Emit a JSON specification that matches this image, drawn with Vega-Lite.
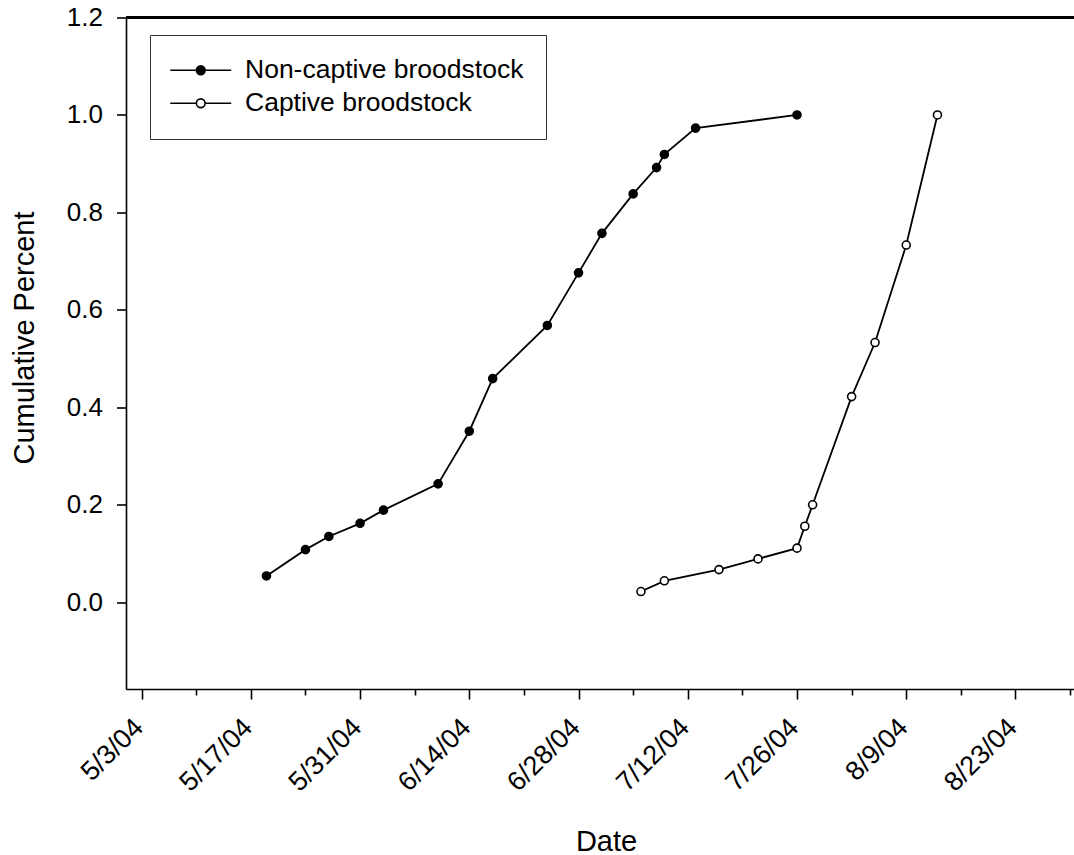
{
  "$schema": "https://vega.github.io/schema/vega-lite/v6.json",
  "width": 948,
  "height": 671.5,
  "autosize": {"type": "none"},
  "padding": {"left": 126, "top": 17.5, "right": 0, "bottom": 166},
  "background": "white",
  "config": {
    "view": {"stroke": null},
    "font": "Liberation Sans",
    "axis": {"grid": false, "domainColor": "black", "tickColor": "black", "domainWidth": 1.6, "tickWidth": 1.6, "labelColor": "black", "titleColor": "black", "labelFontSize": 26, "titleFontSize": 29, "titleFontWeight": "normal", "labelFont": "Liberation Sans", "titleFont": "Liberation Sans"}
  },
  "data": {
    "values": [
      {"series": "Non-captive broodstock", "date": "2004-05-19", "value": 0.054},
      {"series": "Non-captive broodstock", "date": "2004-05-24", "value": 0.108},
      {"series": "Non-captive broodstock", "date": "2004-05-27", "value": 0.135},
      {"series": "Non-captive broodstock", "date": "2004-05-31", "value": 0.162},
      {"series": "Non-captive broodstock", "date": "2004-06-03", "value": 0.189},
      {"series": "Non-captive broodstock", "date": "2004-06-10", "value": 0.243},
      {"series": "Non-captive broodstock", "date": "2004-06-14", "value": 0.351},
      {"series": "Non-captive broodstock", "date": "2004-06-17", "value": 0.459},
      {"series": "Non-captive broodstock", "date": "2004-06-24", "value": 0.568},
      {"series": "Non-captive broodstock", "date": "2004-06-28", "value": 0.676},
      {"series": "Non-captive broodstock", "date": "2004-07-01", "value": 0.757},
      {"series": "Non-captive broodstock", "date": "2004-07-05", "value": 0.838},
      {"series": "Non-captive broodstock", "date": "2004-07-08", "value": 0.892},
      {"series": "Non-captive broodstock", "date": "2004-07-09", "value": 0.919},
      {"series": "Non-captive broodstock", "date": "2004-07-13", "value": 0.973},
      {"series": "Non-captive broodstock", "date": "2004-07-26", "value": 1.0},
      {"series": "Captive broodstock", "date": "2004-07-06", "value": 0.022},
      {"series": "Captive broodstock", "date": "2004-07-09", "value": 0.044},
      {"series": "Captive broodstock", "date": "2004-07-16", "value": 0.067},
      {"series": "Captive broodstock", "date": "2004-07-21", "value": 0.089},
      {"series": "Captive broodstock", "date": "2004-07-26", "value": 0.111},
      {"series": "Captive broodstock", "date": "2004-07-27", "value": 0.156},
      {"series": "Captive broodstock", "date": "2004-07-28", "value": 0.2},
      {"series": "Captive broodstock", "date": "2004-08-02", "value": 0.422},
      {"series": "Captive broodstock", "date": "2004-08-05", "value": 0.533},
      {"series": "Captive broodstock", "date": "2004-08-09", "value": 0.733},
      {"series": "Captive broodstock", "date": "2004-08-13", "value": 1.0}
    ]
  },
  "encoding": {
    "x": {
      "field": "date", "type": "temporal",
      "scale": {"type": "utc", "domain": [{"year": 2004, "month": 5, "date": 1, "utc": true}, {"year": 2004, "month": 8, "date": 30, "hours": 12, "utc": true}], "nice": false},
      "axis": {
        "title": "Date",
        "values": [
          {"year": 2004, "month": 5, "date": 3, "utc": true},
          {"year": 2004, "month": 5, "date": 10, "utc": true},
          {"year": 2004, "month": 5, "date": 17, "utc": true},
          {"year": 2004, "month": 5, "date": 24, "utc": true},
          {"year": 2004, "month": 5, "date": 31, "utc": true},
          {"year": 2004, "month": 6, "date": 7, "utc": true},
          {"year": 2004, "month": 6, "date": 14, "utc": true},
          {"year": 2004, "month": 6, "date": 21, "utc": true},
          {"year": 2004, "month": 6, "date": 28, "utc": true},
          {"year": 2004, "month": 7, "date": 5, "utc": true},
          {"year": 2004, "month": 7, "date": 12, "utc": true},
          {"year": 2004, "month": 7, "date": 19, "utc": true},
          {"year": 2004, "month": 7, "date": 26, "utc": true},
          {"year": 2004, "month": 8, "date": 2, "utc": true},
          {"year": 2004, "month": 8, "date": 9, "utc": true},
          {"year": 2004, "month": 8, "date": 16, "utc": true},
          {"year": 2004, "month": 8, "date": 23, "utc": true},
          {"year": 2004, "month": 8, "date": 30, "utc": true}
        ],
        "labelExpr": "(round((datum.value - utc(2004,4,3))/86400000) % 14 == 0) ? utcFormat(datum.value, '%-m/%-d/%y') : ''",
        "tickSize": {"condition": {"test": "round((datum.value - utc(2004,4,3))/86400000) % 14 == 0", "value": 10}, "value": 6},
        "labelAngle": -45,
        "labelAlign": "right",
        "labelBaseline": "middle",
        "labelPadding": 24,
        "labelFontSize": 27,
        "labelOffset": -3,
        "labelOverlap": false,
        "labelBound": false,
        "titleX": 480,
        "titleY": 161,
        "titleBaseline": "alphabetic",
        "titleAlign": "center"
      }
    },
    "y": {
      "field": "value", "type": "quantitative",
      "scale": {"domain": [-0.178, 1.2], "nice": false, "zero": false},
      "axis": {
        "title": "Cumulative Percent",
        "values": [0, 0.2, 0.4, 0.6, 0.8, 1.0, 1.2],
        "format": ".1f",
        "tickSize": 9.5,
        "labelPadding": 14,
        "titleX": -93,
        "titleY": 320,
        "titleBaseline": "alphabetic",
        "titleAlign": "center"
      }
    }
  },
  "layer": [
    {
      "mark": {"type": "rule", "color": "black", "strokeWidth": 1.6},
      "encoding": {"x": null, "y": {"datum": 1.2, "type": "quantitative", "title": "Cumulative Percent", "scale": {"domain": [-0.178, 1.2], "nice": false, "zero": false}}}
    },
    {
      "mark": {"type": "line", "color": "black", "strokeWidth": 1.8},
      "encoding": {"detail": {"field": "series"}}
    },
    {
      "mark": {"type": "point", "shape": "circle", "size": 64, "stroke": "black", "strokeWidth": 1.6, "opacity": 1, "filled": true},
      "encoding": {
        "fill": {
          "field": "series", "type": "nominal",
          "scale": {"domain": ["Non-captive broodstock", "Captive broodstock"], "range": ["black", "white"]},
          "legend": {
            "title": null,
            "orient": "none",
            "legendX": 24,
            "legendY": 17.5,
            "direction": "vertical",
            "symbolType": "M-3,0L-0.43,0M0.43,0L3,0M0.43,0A0.43,0.43,0,1,1,-0.43,0A0.43,0.43,0,1,1,0.43,0Z",
            "symbolSize": 413,
            "symbolStrokeColor": "black",
            "symbolStrokeWidth": 1.6,
            "symbolOffset": 15.5,
            "labelOffset": 31,
            "labelFontSize": 26.5,
            "labelFont": "Liberation Sans",
            "labelColor": "black",
            "labelLimit": 0,
            "padding": 22,
            "rowPadding": 6,
            "strokeColor": "#333333",
            "fillColor": "white",
            "cornerRadius": 0,
            "encode": {"symbols": {"update": {"stroke": {"value": "black"}, "strokeWidth": {"value": 1.6}, "opacity": {"value": 1}}}}
          }
        }
      }
    }
  ]
}
